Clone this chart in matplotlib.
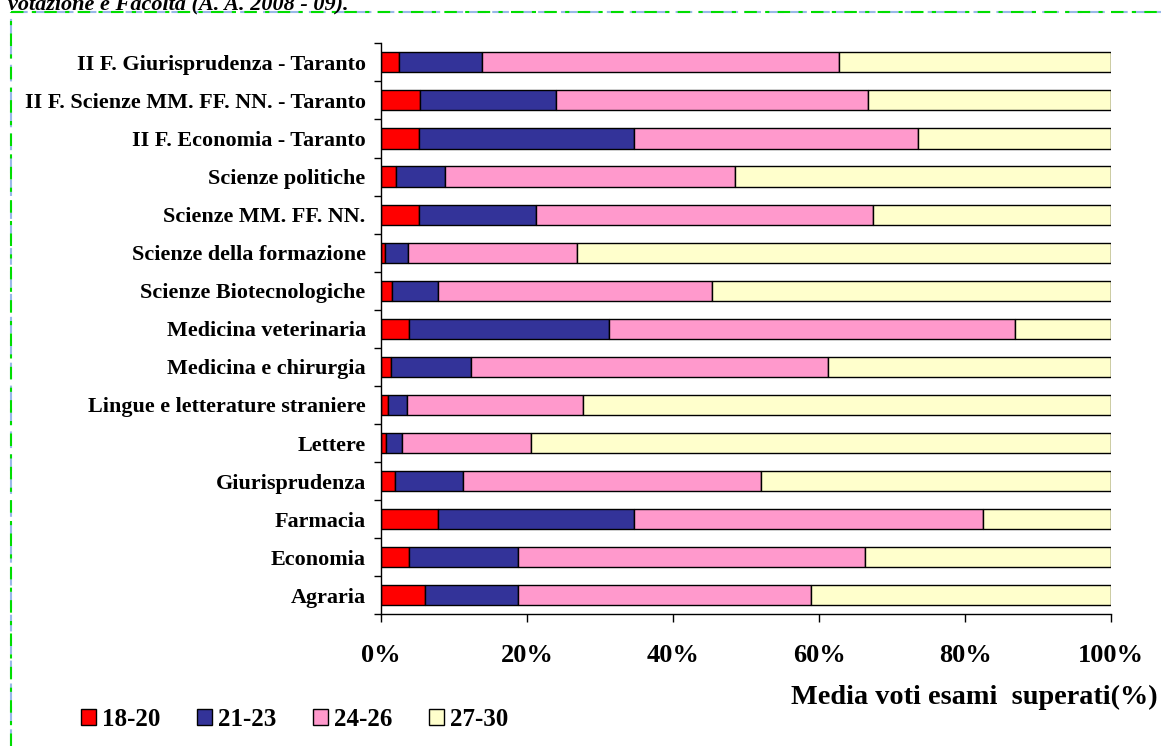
import matplotlib
matplotlib.use("Agg")
import matplotlib.pyplot as plt
from matplotlib.patches import Patch
from matplotlib.lines import Line2D
import numpy as np

plt.rcParams['font.family'] = ['Liberation Serif', 'DejaVu Serif']
plt.rcParams['font.weight'] = 'bold'

categories = [
    "Agraria", "Economia", "Farmacia", "Giurisprudenza", "Lettere",
    "Lingue e letterature straniere", "Medicina e chirurgia",
    "Medicina veterinaria", "Scienze Biotecnologiche",
    "Scienze della formazione", "Scienze MM. FF. NN.", "Scienze politiche",
    "II F. Economia - Taranto", "II F. Scienze MM. FF. NN. - Taranto",
    "II F. Giurisprudenza - Taranto",
]
# percentages per category (bottom to top)
v_18_20 = [6.0, 3.9, 7.8, 1.9, 0.7, 1.0, 1.4, 3.8, 1.5, 0.6, 5.2, 2.0, 5.2, 5.4, 2.4]
v_21_23 = [12.7, 14.8, 26.8, 9.4, 2.2, 2.5, 10.9, 27.4, 6.3, 3.1, 16.1, 6.7, 29.4, 18.6, 11.4]
v_24_26 = [40.2, 47.6, 47.8, 40.7, 17.7, 24.2, 49.0, 55.6, 37.5, 23.1, 46.1, 39.8, 39.0, 42.7, 49.0]
v_27_30 = [41.1, 33.7, 17.6, 48.0, 79.4, 72.3, 38.7, 13.2, 54.7, 73.2, 32.6, 51.5, 26.4, 33.3, 37.2]
series_labels = ["18-20", "21-23", "24-26", "27-30"]
colors = ["#FF0000", "#333399", "#FF99CC", "#FFFFCC"]
xticklabels = ["0%", "20%", "40%", "60%", "80%", "100%"]

W, H = 1161, 746
fig = plt.figure(figsize=(W / 100, H / 100), dpi=100)
ax = fig.add_axes([381 / W, 1 - 614.4 / H, 730 / W, (614.4 - 43.3) / H])

y = np.arange(len(categories))
left = np.zeros(len(categories))
for vals, lab, col in zip([v_18_20, v_21_23, v_24_26, v_27_30], series_labels, colors):
    vals = np.array(vals)
    ax.barh(y, vals, left=left, height=0.53, color=col, edgecolor='black',
            linewidth=1.0, label=lab)
    left = left + vals

ax.set_xlim(0, 100)
ax.set_ylim(-0.5, len(categories) - 0.5)
for s in ['top', 'right']:
    ax.spines[s].set_visible(False)
for s in ['left', 'bottom']:
    ax.spines[s].set_color('black')
    ax.spines[s].set_linewidth(1.0)

ax.set_xticks(np.arange(0, 101, 20))
ax.set_xticklabels(xticklabels, fontsize=19, fontweight='bold')
ax.tick_params(axis='x', direction='out', length=6, width=1, pad=15)

ax.set_yticks(y)
ax.set_yticklabels(categories, fontsize=15.9, fontweight='bold')
ax.tick_params(axis='y', which='major', length=0, pad=11)
ax.set_yticks(np.arange(-0.5, len(categories), 1), minor=True)
ax.tick_params(axis='y', which='minor', direction='out', length=5, width=1)

fig.text(1158 / W, 1 - 697 / H, "Media voti esami  superati(%)", fontsize=20.3,
         fontweight='bold', ha='right', va='center')

# truncated title at very top
fig.text(8 / W, 1 - 9 / H, "votazione e Facoltà (A. A. 2008 - 09).", fontsize=16,
         fontweight='bold', style='italic', ha='left', va='baseline')

handles = [Patch(facecolor=c, edgecolor='black', linewidth=1.0) for c in colors]
fig.legend(handles, series_labels, loc='center left',
           bbox_to_anchor=(81 / W, 1 - 719 / H), ncol=4, frameon=False,
           prop={'family': 'Liberation Serif', 'weight': 'bold', 'size': 18},
           handlelength=0.6, handleheight=0.6, handletextpad=0.25,
           columnspacing=1.45, borderaxespad=0, borderpad=0)

# dashed border
bx, by = 11 / W, 1 - 11.5 / H
for col, ls, lw in [("#99B8E8", (0, (8, 3)), 1.5), ("#00DD00", (0, (6, 4, 2, 4)), 1.5)]:
    fig.add_artist(Line2D([bx, bx], [0, by], transform=fig.transFigure, color=col,
                          linestyle=ls, linewidth=lw))
    fig.add_artist(Line2D([bx, 1], [by, by], transform=fig.transFigure, color=col,
                          linestyle=ls, linewidth=lw))

fig.savefig("out.png", dpi=100)
